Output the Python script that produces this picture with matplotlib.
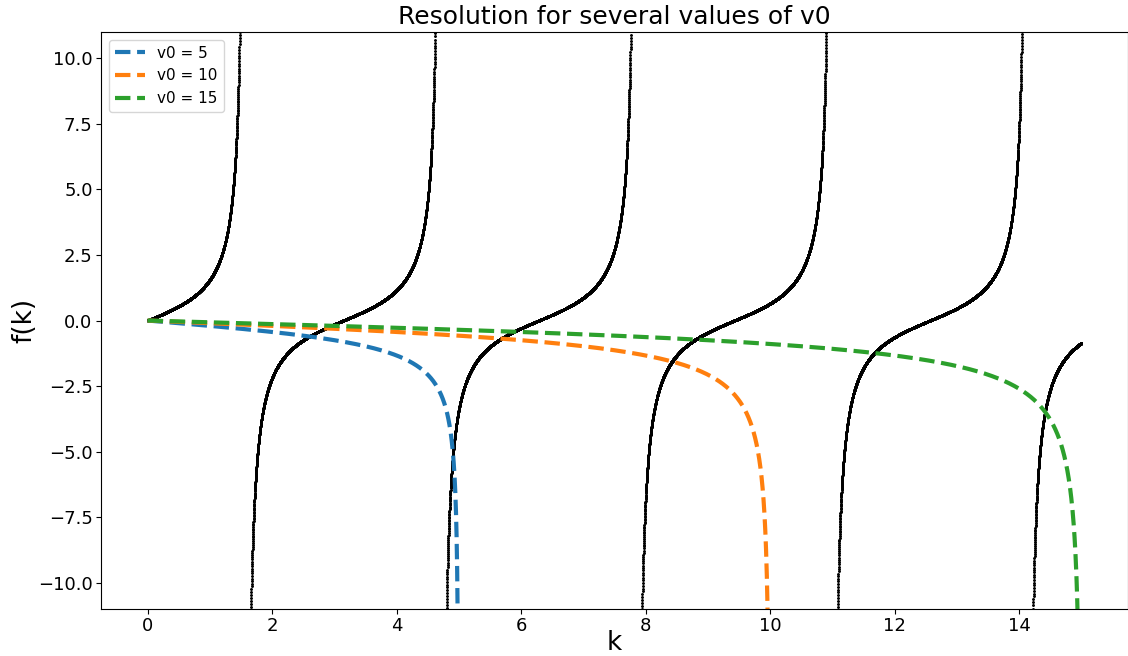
import numpy as np
import matplotlib.pyplot as plt

# well depths compared, and the k range scanned
v0_values = [5, 10, 15]
k_start = 0
k_end = 15
colors = ['#1f77b4', '#ff7f0e', '#2ca02c']


def lhs(k):
    return np.tan(k)


def rhs(k, v0):
    return -k / np.sqrt(v0 ** 2 - k ** 2)


fig = plt.figure(figsize=(11.28, 6.56), dpi=100)
ax = fig.add_axes([0.0895, 0.0716, 0.9105, 0.8796])

k = np.linspace(k_start, k_end, 15000)
ax.plot(k, lhs(k), 'k.', markersize=2.2, linestyle='none')

for v0, c in zip(v0_values, colors):
    kk = np.linspace(k_start, v0, 4000, endpoint=False)
    ax.plot(kk, rhs(kk, v0), '--', color=c, linewidth=3, label='v0 = ' + str(v0))

ax.set_ylim(-11, 11)
ax.set_title('Resolution for several values of v0', fontsize=18)
ax.set_xlabel('k', fontsize=19, labelpad=-4)
ax.set_ylabel('f(k)', fontsize=19, labelpad=0)
ax.tick_params(labelsize=13, pad=2.5)
ax.legend(loc='upper left', fontsize=11)

plt.savefig('out.png')
